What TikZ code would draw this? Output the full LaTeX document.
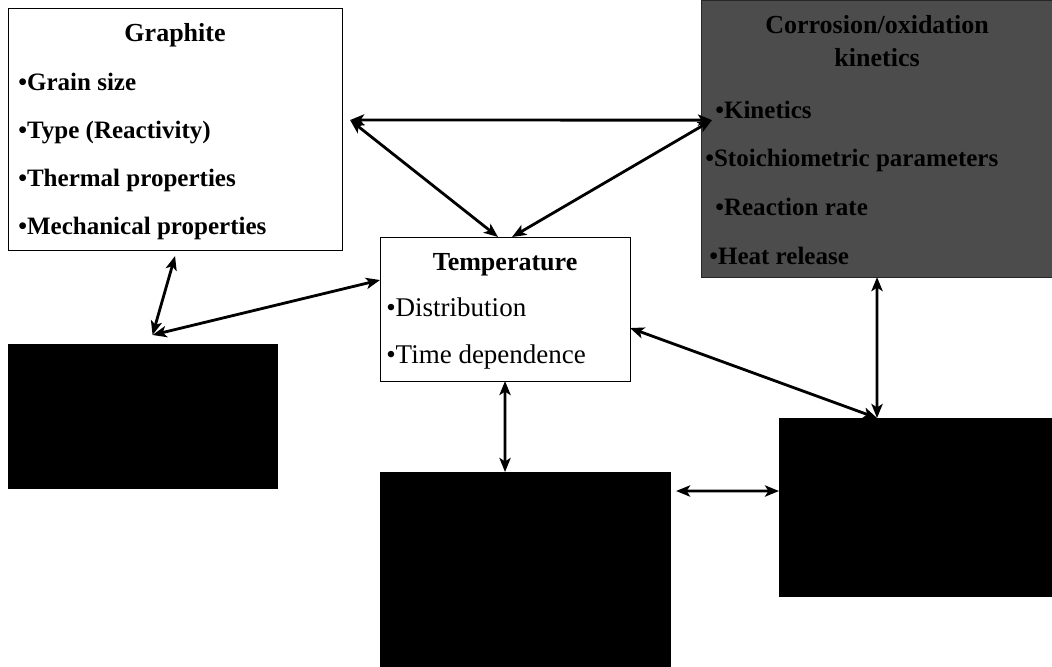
\documentclass[tikz,border=0pt]{standalone}
\usepackage{fontspec}
\setmainfont{Liberation Serif}
\usetikzlibrary{arrows.meta,positioning}
\tikzset{
  box/.style={
    rectangle,
    draw=black, semithick,
    inner sep=0pt, outer sep=0pt,
    anchor=north west
  },
  blackbox/.style={box, fill=black},
  greybox/.style={box, fill=black!70, draw=black!85},
  title/.style={font=\fontsize{18.5}{22}\selectfont\bfseries, inner sep=0pt},
  item/.style={font=\fontsize{19.2}{22}\selectfont, inner sep=0pt},
  bitem/.style={item, font=\fontsize{17.8}{22}\selectfont\bfseries},
  link/.style={<->, line width=2pt},
}
\begin{document}
\begin{tikzpicture}[x=0.025cm,y=-0.025cm,>={Stealth[length=10pt,width=8pt,inset=2.5pt]}]

\useasboundingbox (0,0) rectangle (1052,666);

% boxes
\node[box, minimum width=8.35cm, minimum height=6.05cm] (GRAPHITE) at (8,8) {};
\node[greybox, minimum width=8.8cm, minimum height=6.925cm] (CORR) at (701,0) {};
\node[box, minimum width=6.25cm, minimum height=3.6cm] (TEMP) at (380,237) {};
\node[blackbox, minimum width=6.725cm, minimum height=3.6cm] (LEFTBLK) at (8,344) {};
\node[blackbox, minimum width=7.25cm, minimum height=4.9cm] (MIDBLK) at (380,472) {};
\node[blackbox, minimum width=6.9cm, minimum height=4.45cm] (RIGHTBLK) at (779,418) {};

% Graphite
\node[title, below=0.825cm of GRAPHITE.north, anchor=base] (GRAPHITE_T) {Graphite};
\node[bitem, below right=2.05cm and 0.25cm of GRAPHITE.north west, anchor=base west] (GR_GRAIN) {•Grain size};
\node[bitem, below right=3.25cm and 0.25cm of GRAPHITE.north west, anchor=base west] (GR_TYPE) {•Type (Reactivity)};
\node[bitem, below right=4.45cm and 0.25cm of GRAPHITE.north west, anchor=base west] (GR_THERM) {•Thermal properties};
\node[bitem, below right=5.65cm and 0.25cm of GRAPHITE.north west, anchor=base west] (GR_MECH) {•Mechanical properties};

% Corrosion/oxidation
\node[title, below=0.825cm of CORR.north, anchor=base] (CORR_T1) {Corrosion/oxidation};
\node[title, below=1.65cm of CORR.north, anchor=base] (CORR_T2) {kinetics};
\node[bitem, below right=2.95cm and 0.35cm of CORR.north west, anchor=base west] (CO_KIN) {•Kinetics};
\node[bitem, below right=4.17cm and 0.1cm of CORR.north west, anchor=base west] (CO_STOICH) {•Stoichiometric parameters};
\node[bitem, below right=5.39cm and 0.35cm of CORR.north west, anchor=base west] (CO_RATE) {•Reaction rate};
\node[bitem, below right=6.61cm and 0.2cm of CORR.north west, anchor=base west] (CO_HEAT) {•Heat release};

% Temperature
\node[title, below=0.825cm of TEMP.north, anchor=base] (TEMP_T) {Temperature};
\node[item, below right=1.975cm and 0.15cm of TEMP.north west, anchor=base west] (TE_DIST) {•Distribution};
\node[item, below right=3.15cm and 0.15cm of TEMP.north west, anchor=base west] (TE_TIME) {•Time dependence};

% arrow ends
\coordinate[above right=0.225cm and 0.2cm of GRAPHITE.east] (GR_R);
\coordinate[above right=0.46cm and 0.275cm of CORR.west] (CO_L);
\coordinate[left=0.175cm of TEMP.north] (TE_TL);
\coordinate[right=0.175cm of TEMP.north] (TE_TR);
\coordinate[below=0.15cm of GRAPHITE.south] (GR_B);
\coordinate[above right=0.225cm and 0.25cm of LEFTBLK.north] (LB_T);
\coordinate[above=0.725cm of TEMP.west] (TE_L);
\coordinate[below=0.475cm of TEMP.east] (TE_R);
\coordinate[left=1cm of RIGHTBLK.north] (RB_T);
\coordinate[left=0.5cm of MIDBLK.north] (MB_T);
\coordinate[below right=0.475cm and 0.15cm of MIDBLK.north east] (MB_R);
\coordinate[above=0.4cm of RIGHTBLK.west] (RB_L);

\draw[link] (GR_R) -- (CO_L);
\draw[link] (GR_R) -- (TE_TL);
\draw[link] (CO_L) -- (TE_TR);
\draw[link] (GR_B) -- (LB_T);
\draw[link] (LB_T) -- (TE_L);
\draw[link] (TE_R) -- (RB_T);
\draw[link] (CORR.south) -- (RB_T);
\draw[link] (TEMP.south) -- (MB_T);
\draw[link] (MB_R) -- (RB_L);

\end{tikzpicture}
\end{document}
